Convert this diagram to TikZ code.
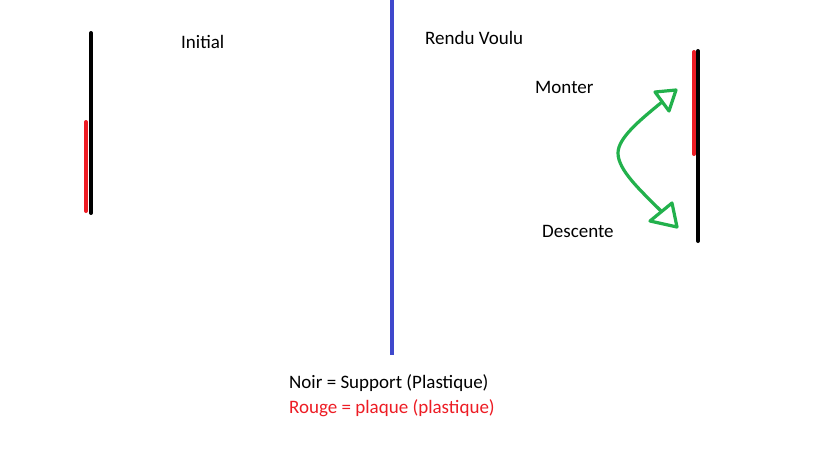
\documentclass[tikz,border=0pt]{standalone}
\usepackage{fontspec}
\setmainfont{Carlito}
\begin{document}
\begin{tikzpicture}[x=1pt,y=-1pt,
  lbl/.style={anchor=west,inner sep=0pt,font=\fontsize{19}{21}\selectfont},
  bar/.style={line width=4pt,line cap=round},
  grn/.style={draw=arrowgreen,line width=3.2pt,line cap=round,line join=round}]
\definecolor{paintred}{HTML}{ED1C24}
\definecolor{paintblue}{HTML}{3F48CC}
\definecolor{arrowgreen}{HTML}{22B14C}
\useasboundingbox[fill=white] (0,0) rectangle (819,460);
% left bars
\coordinate (lbTop) at (91,33);
\coordinate (lbBot) at (91,213);
\coordinate (lrTop) at (86,122);
\coordinate (lrBot) at (86,211);
\draw[bar,black] (lbTop) -- (lbBot);
\draw[bar,paintred] (lrTop) -- (lrBot);
% separator
\coordinate (sepTop) at (392,-2);
\coordinate (sepBot) at (392,355);
\draw[line width=4pt,paintblue] (sepTop) -- (sepBot);
% right bars
\coordinate (rbTop) at (698,51);
\coordinate (rbBot) at (698,241);
\coordinate (rrTop) at (694,52);
\coordinate (rrBot) at (694,154);
\draw[bar,black] (rbTop) -- (rbBot);
\draw[bar,paintred] (rrTop) -- (rrBot);
% green arrow
\coordinate (gA) at (662,102);
\coordinate (gM) at (618,153);
\coordinate (gB) at (661,211);
\draw[grn] (gA) .. controls (640,120) and (618,138) .. (gM)
               .. controls (618,170) and (640,190) .. (gB);
\draw[grn] (655,92) -- (676,90) -- (669,111) -- cycle;
\draw[grn] (650,221) -- (672,203) -- (677,227) -- cycle;
% labels
\node[lbl] (initial) at (181,42) {Initial};
\node[lbl] (rendu) at (425,38) {Rendu Voulu};
\node[lbl] (monter) at (535,87) {Monter};
\node[lbl] (descente) at (542,231) {Descente};
\node[lbl] (noir) at (289,383) {Noir = Support (Plastique)};
\node[lbl,text=paintred] (rouge) at (289,408) {Rouge = plaque (plastique)};
\end{tikzpicture}
\end{document}
